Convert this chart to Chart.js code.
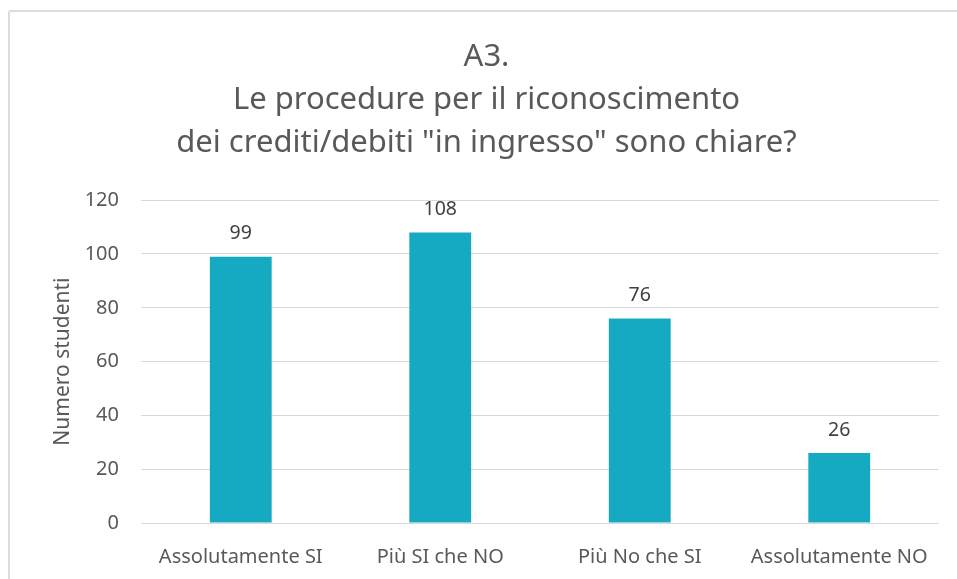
<!DOCTYPE html>
<html>
<head>
<meta charset="utf-8">
<style>
  body { margin: 0; background: #fff; }
  #wrap { position: relative; width: 957px; height: 579px; overflow: hidden; }
  #frame { position: absolute; left: 8px; top: 10px; width: 980px; height: 600px; border: 2px solid #dcdcdc; border-radius: 3px; }
  canvas { position: absolute; left: 0; top: 0; }
</style>
</head>
<body>
<div id="wrap">
  <div id="frame"></div>
  <canvas id="myChart" width="957" height="579"></canvas>
</div>
<script src="https://cdn.jsdelivr.net/npm/chart.js"></script>
<script>
  // dati
  const categories = ['Assolutamente SI', 'Più SI che NO', 'Più No che SI', 'Assolutamente NO'];
  const students = [99, 108, 76, 26];
  const yTicks = [0, 20, 40, 60, 80, 100, 120];
  const titleLines = ['A3.', 'Le procedure per il riconoscimento', 'dei crediti/debiti "in ingresso" sono chiare?'];

  const FONT = '"Noto Sans", Roboto, sans-serif';

  // etichette sopra le barre
  const valueLabels = {
    id: 'valueLabels',
    afterDatasetsDraw(chart) {
      const ctx = chart.ctx;
      ctx.save();
      ctx.font = '19.5px ' + FONT;
      ctx.fillStyle = '#404040';
      ctx.textAlign = 'center';
      ctx.textBaseline = 'middle';
      chart.getDatasetMeta(0).data.forEach((bar, i) => {
        ctx.fillText(students[i], bar.x, bar.y - 23);
      });
      ctx.restore();
    }
  };

  const ctx = document.getElementById('myChart').getContext('2d');
  const myChart = new Chart(ctx, {
    type: 'bar',
    data: {
      labels: categories,
      datasets: [{
        label: 'Numero studenti',
        data: students,
        backgroundColor: '#15AAC2',
        borderWidth: 0,
        categoryPercentage: 1,
        barPercentage: 0.31
      }]
    },
    options: {
      responsive: false,
      animation: false,
      // padding sinistro per centrare il titolo come nell'originale
      layout: { padding: { left: 34, right: 18, top: 0, bottom: 0 } },
      plugins: {
        legend: { display: false },
        tooltip: { enabled: false },
        title: {
          display: true,
          text: titleLines,
          color: '#595959',
          font: { family: FONT, size: 31, weight: 'normal', lineHeight: 1.4 },
          padding: { top: 35, bottom: 35 }
        }
      },
      scales: {
        x: {
          grid: { display: false },
          border: { display: false },
          ticks: { color: '#595959', font: { family: FONT, size: 20 }, padding: 14, maxRotation: 0 },
          afterFit(scale) { scale.height = 56; }
        },
        y: {
          min: 0,
          max: 120,
          afterBuildTicks(scale) { scale.ticks = yTicks.map(v => ({ value: v })); },
          grid: { color: '#d9d9d9', lineWidth: 1, drawTicks: false },
          border: { display: false },
          ticks: { color: '#595959', font: { family: FONT, size: 20 }, padding: 22 },
          title: {
            display: true,
            text: 'Numero studenti',
            color: '#595959',
            font: { family: FONT, size: 21 },
            padding: { top: 16, bottom: 0 }
          },
          afterFit(scale) { scale.width = 107; }
        }
      }
    },
    plugins: [valueLabels]
  });
</script>
</body>
</html>
